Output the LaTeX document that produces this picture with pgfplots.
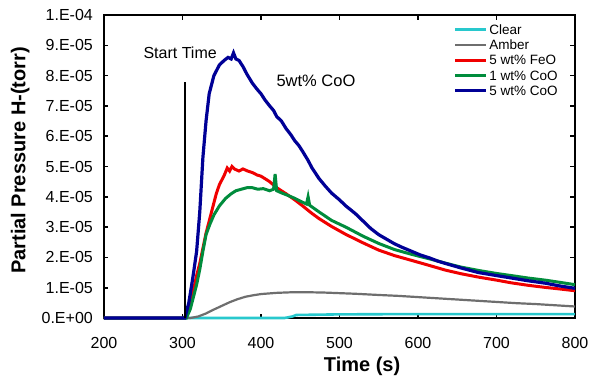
\documentclass[border=0pt]{standalone}
\usepackage{pgfplots}
\pgfplotsset{compat=1.18}
\usepackage{fontspec}
\setmainfont{Liberation Sans}
\definecolor{cClear}{RGB}{40,200,205}
\definecolor{cAmber}{RGB}{110,110,110}
\definecolor{cFeO}{RGB}{240,0,0}
\definecolor{cCoOa}{RGB}{0,140,60}
\definecolor{cCoOb}{RGB}{0,0,150}
\begin{document}
\begin{tikzpicture}
\path[use as bounding box] (-104pt,-66pt) rectangle (486pt,318pt);
\begin{axis}[
  scale only axis,
  width=471pt, height=303pt,
  at={(0pt,0pt)}, anchor=south west,
  xmin=200, xmax=800, ymin=0, ymax=1e-4,
  clip=false,
  xtick={200,300,400,500,600,700,800},
  ytick={0,1e-5,2e-5,3e-5,4e-5,5e-5,6e-5,7e-5,8e-5,9e-5,1e-4},
  yticklabels={0.E+00,1.E-05,2.E-05,3.E-05,4.E-05,5.E-05,6.E-05,7.E-05,8.E-05,9.E-05,1.E-04},
  scaled y ticks=false,
  /pgf/number format/assume math mode=true,
  tick align=inside,
  major tick length=4.5pt,
  tick style={line width=1.6pt, black},
  axis line style={line width=1.8pt, black},
  ticklabel style={font=\fontsize{16}{18}\selectfont},
  yticklabel style={inner sep=0pt, xshift=-11pt},
  xticklabel style={inner sep=0pt, yshift=-19pt},
  xlabel={Time (s)},
  ylabel={Partial Pressure H-(torr)},
  every axis x label/.style={at={(rel axis cs:0.548,-0.158)}, anchor=center, font=\bfseries\fontsize{20}{22}\selectfont},
  every axis y label/.style={at={(rel axis cs:-0.178,0.52)}, rotate=90, anchor=center, font=\bfseries\fontsize{20}{22}\selectfont},
  legend style={draw=none, fill=none, at={(rel axis cs:0.742,0.97)}, anchor=north west,
    font=\fontsize{13.5}{14}\selectfont, inner sep=0pt, row sep=4.5pt, column sep=1pt,
    nodes={inner sep=0.5pt, text height=9.7pt, text depth=0pt}},
  legend image code/.code={\draw[#1] (0pt,0pt) -- (31pt,0pt);},
  legend cell align=left,
]
\addplot[cClear, line width=2.6pt] coordinates {
(200,0)(340,0)(380,0)(400,0)(430,0)(440,0.05e-5)(445,0.1e-5)(500,0.12e-5)(600,0.13e-5)(700,0.13e-5)(800,0.13e-5)};
\addlegendentry{Clear}
\addplot[cAmber, line width=2.2pt] coordinates {
(200,0)(310,0)(320,0.05e-5)(330,0.15e-5)(340,0.28e-5)(350,0.4e-5)(360,0.52e-5)(370,0.62e-5)(380,0.7e-5)(390,0.75e-5)(400,0.79e-5)(420,0.83e-5)(440,0.85e-5)(460,0.85e-5)(480,0.84e-5)(500,0.82e-5)(520,0.8e-5)(550,0.76e-5)(575,0.73e-5)(600,0.69e-5)(625,0.65e-5)(650,0.61e-5)(675,0.57e-5)(700,0.53e-5)(725,0.49e-5)(750,0.46e-5)(775,0.42e-5)(800,0.38e-5)};
\addlegendentry{Amber}
\addplot[cFeO, line width=3pt] coordinates {
(200,0)(303,0)(308,0.3e-5)(313,0.8e-5)(318,1.4e-5)(322,1.8e-5)(326,2.3e-5)(330,2.8e-5)(334,3.2e-5)(339,3.7e-5)(343,4.1e-5)(347,4.4e-5)(353,4.7e-5)(357,4.95e-5)(360,4.85e-5)(363,5.0e-5)(366,4.92e-5)(372,4.85e-5)(377,4.92e-5)(383,4.85e-5)(389,4.8e-5)(395,4.72e-5)(400,4.68e-5)(405,4.6e-5)(411,4.5e-5)(420,4.3e-5)(426,4.2e-5)(432,4.1e-5)(443,3.9e-5)(453,3.7e-5)(465,3.45e-5)(474,3.28e-5)(490,3.02e-5)(508,2.76e-5)(530,2.48e-5)(550,2.24e-5)(570,2.06e-5)(592,1.9e-5)(615,1.73e-5)(635,1.58e-5)(655,1.46e-5)(677,1.35e-5)(700,1.25e-5)(719,1.16e-5)(740,1.08e-5)(762,1.01e-5)(780,0.96e-5)(800,0.9e-5)};
\addlegendentry{5 wt\% FeO}
\addplot[cCoOa, line width=3pt] coordinates {
(200,0)(305,0)(310,0.3e-5)(314,0.7e-5)(318,1.1e-5)(322,1.6e-5)(326,2.2e-5)(330,2.75e-5)(335,3.1e-5)(340,3.4e-5)(347,3.7e-5)(355,3.95e-5)(362,4.1e-5)(368,4.2e-5)(375,4.25e-5)(382,4.3e-5)(389,4.3e-5)(396,4.25e-5)(403,4.27e-5)(411,4.2e-5)(416,4.25e-5)(418,4.75e-5)(420,4.2e-5)(427,4.12e-5)(432,4.07e-5)(443,3.95e-5)(453,3.82e-5)(458,3.76e-5)(460,4.0e-5)(462,3.72e-5)(474,3.5e-5)(490,3.22e-5)(508,3.0e-5)(530,2.7e-5)(550,2.46e-5)(570,2.26e-5)(592,2.1e-5)(615,1.95e-5)(635,1.81e-5)(655,1.68e-5)(677,1.57e-5)(700,1.47e-5)(719,1.4e-5)(740,1.32e-5)(762,1.25e-5)(780,1.18e-5)(800,1.1e-5)};
\addlegendentry{1 wt\% CoO}
\addplot[cCoOb, line width=3.2pt] coordinates {
(200,0)(300,0)(303,0)(308,0.5e-5)(313,1.3e-5)(318,2.2e-5)(322,3.5e-5)(326,5.3e-5)(330,6.5e-5)(334,7.4e-5)(340,8.0e-5)(347,8.35e-5)(353,8.5e-5)(358,8.6e-5)(362,8.55e-5)(365,8.75e-5)(368,8.55e-5)(372,8.5e-5)(377,8.3e-5)(382,8.05e-5)(389,7.75e-5)(395,7.55e-5)(400,7.4e-5)(405,7.2e-5)(411,7.0e-5)(416,6.85e-5)(420,6.65e-5)(426,6.5e-5)(432,6.25e-5)(438,6.05e-5)(443,5.85e-5)(448,5.7e-5)(453,5.5e-5)(460,5.2e-5)(465,4.95e-5)(474,4.6e-5)(482,4.35e-5)(490,4.12e-5)(500,3.9e-5)(508,3.7e-5)(520,3.45e-5)(530,3.2e-5)(540,2.95e-5)(550,2.75e-5)(560,2.6e-5)(570,2.45e-5)(580,2.33e-5)(592,2.2e-5)(603,2.08e-5)(615,1.98e-5)(625,1.88e-5)(635,1.8e-5)(655,1.65e-5)(677,1.5e-5)(700,1.4e-5)(719,1.32e-5)(740,1.23e-5)(762,1.15e-5)(780,1.06e-5)(800,0.98e-5)};
\addlegendentry{5 wt\% CoO}
\addplot[black, line width=1.5pt, forget plot] coordinates {(303,0)(303,7.8e-5)};
\node[font=\fontsize{16}{18}\selectfont, anchor=center, inner sep=0pt] at (axis cs:297,8.76e-5) {Start Time};
\node[font=\fontsize{16.5}{18}\selectfont, anchor=center, inner sep=0pt] at (axis cs:470,7.82e-5) {5wt\% CoO};
\end{axis}
\end{tikzpicture}
\end{document}
